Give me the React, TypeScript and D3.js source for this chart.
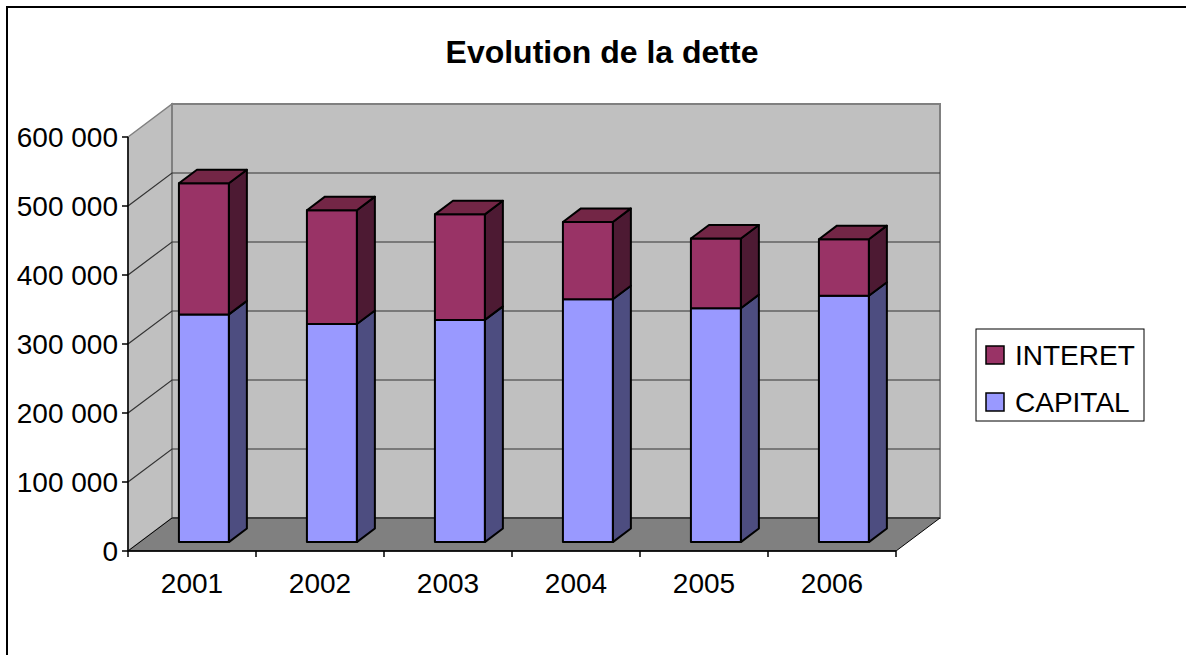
import * as d3 from "d3";
import { useEffect, useRef } from "react";

const years = ["2001", "2002", "2003", "2004", "2005", "2006"];
const capital = [330000, 316000, 322000, 352000, 339000, 357000];
const interet = [190000, 165000, 153000, 112000, 101000, 82000];
const yTicks = [0, 100000, 200000, 300000, 400000, 500000, 600000];
const seriesNames = ["INTERET", "CAPITAL"];

const W = 1186;
const H = 655;
const DX = 44; // full depth offset
const DY = -33;
const FRONT = 0.27; // bar front depth fraction
const BACK = 0.68;

const colors = {
  capital: { front: "#9999ff", side: "#4d4d80", top: "#7373bf" },
  interet: { front: "#993366", side: "#4d1a33", top: "#732646" },
};

const App = () => {
  const ref = useRef<SVGSVGElement>(null);

  useEffect(() => {
    const svg = d3.select(ref.current);
    svg.selectAll("*").remove();

    const x = d3.scaleBand().domain(years).range([128, 896]).paddingInner(0.61).paddingOuter(0.305);
    const y = d3.scaleLinear().domain([0, 600000]).range([551, 137]);
    const font = "'Liberation Sans', Arial, sans-serif";

    // outer frame
    svg.append("rect").attr("x", 7).attr("y", 7).attr("width", W + 20).attr("height", H + 20)
      .attr("fill", "white").attr("stroke", "#000").attr("stroke-width", 2);

    svg.append("text").attr("x", 602).attr("y", 63).attr("text-anchor", "middle")
      .attr("font-family", font).attr("font-weight", "bold").attr("font-size", 32)
      .text("Evolution de la dette");

    const x0 = x.range()[0], x1 = x.range()[1];
    const yTop = y(600000), yBot = y(0);
    const pts = (p: number[][]) => p.map(d => d.join(",")).join(" ");

    // left wall
    svg.append("polygon")
      .attr("points", pts([[x0, yTop], [x0 + DX, yTop + DY], [x0 + DX, yBot + DY], [x0, yBot]]))
      .attr("fill", "#c0c0c0").attr("stroke", "#808080").attr("stroke-width", 1.5);
    // back wall
    svg.append("rect").attr("x", x0 + DX).attr("y", yTop + DY).attr("width", x1 - x0)
      .attr("height", yBot - yTop).attr("fill", "#c0c0c0").attr("stroke", "#808080").attr("stroke-width", 2);
    // floor
    svg.append("polygon")
      .attr("points", pts([[x0, yBot], [x0 + DX, yBot + DY], [x1 + DX, yBot + DY], [x1, yBot]]))
      .attr("fill", "#808080").attr("stroke", "#000").attr("stroke-width", 1);

    // gridlines
    const g = svg.append("g").attr("stroke", "#000").attr("stroke-width", 1.2).attr("fill", "none");
    yTicks.forEach(t => {
      if (t === 0) return;
      g.append("path").attr("d", `M${x0},${y(t)} L${x0 + DX},${y(t) + DY} L${x1 + DX},${y(t) + DY}`)
        .attr("stroke", t === 600000 ? "none" : "#333");
    });

    // bars
    years.forEach((yr, i) => {
      const bx = x(yr)! + FRONT * DX;
      const bw = x.bandwidth();
      const fdy = FRONT * DY;
      const sdx = (BACK - FRONT) * DX;
      const sdy = (BACK - FRONT) * DY;
      const segs = [
        { lo: 0, hi: capital[i], c: colors.capital, top: false },
        { lo: capital[i], hi: capital[i] + interet[i], c: colors.interet, top: true },
      ];
      const bar = svg.append("g").attr("stroke", "#000").attr("stroke-width", 2).attr("stroke-linejoin", "round");
      segs.forEach(s => {
        const ylo = y(s.lo) + fdy;
        const yhi = y(s.hi) + fdy;
        bar.append("polygon")
          .attr("points", pts([[bx + bw, ylo], [bx + bw + sdx, ylo + sdy], [bx + bw + sdx, yhi + sdy], [bx + bw, yhi]]))
          .attr("fill", s.c.side);
        bar.append("rect").attr("x", bx).attr("y", yhi).attr("width", bw).attr("height", ylo - yhi)
          .attr("fill", s.c.front);
        if (s.top) {
          bar.append("polygon")
            .attr("points", pts([[bx, yhi], [bx + sdx, yhi + sdy], [bx + bw + sdx, yhi + sdy], [bx + bw, yhi]]))
            .attr("fill", s.c.top);
        }
      });
    });

    // axes
    const ax = svg.append("g").attr("stroke", "#000").attr("stroke-width", 1.5);
    ax.append("line").attr("x1", x0).attr("x2", x0).attr("y1", yTop).attr("y2", yBot);
    ax.append("line").attr("x1", x0).attr("x2", x1).attr("y1", yBot).attr("y2", yBot);
    yTicks.forEach(t => {
      ax.append("line").attr("x1", x0 - 6).attr("x2", x0).attr("y1", y(t)).attr("y2", y(t));
    });
    const step = x.step();
    d3.range(years.length + 1).forEach(k => {
      ax.append("line").attr("x1", x0 + k * step).attr("x2", x0 + k * step).attr("y1", yBot).attr("y2", yBot + 6);
    });

    const fmt = (v: number) => d3.format(",")(v).replace(/,/g, " ");
    svg.append("g").selectAll("text").data(yTicks).enter().append("text")
      .attr("x", 118).attr("y", d => y(d)).attr("dy", "0.36em").attr("text-anchor", "end")
      .attr("font-family", font).attr("font-size", 28).text(d => fmt(d));

    svg.append("g").selectAll("text").data(years).enter().append("text")
      .attr("x", d => x0 + (years.indexOf(d) + 0.5) * step).attr("y", 593).attr("text-anchor", "middle")
      .attr("font-family", font).attr("font-size", 28).text(d => d);

    // legend
    const lg = svg.append("g");
    lg.append("rect").attr("x", 976).attr("y", 329).attr("width", 168).attr("height", 92)
      .attr("fill", "white").attr("stroke", "#000").attr("stroke-width", 1);
    seriesNames.forEach((n, i) => {
      const c = n === "INTERET" ? colors.interet : colors.capital;
      lg.append("rect").attr("x", 986).attr("y", 346 + i * 47).attr("width", 18).attr("height", 18)
        .attr("fill", c.front).attr("stroke", "#000").attr("stroke-width", 1.5);
      lg.append("text").attr("x", 1015).attr("y", 365 + i * 47)
        .attr("font-family", font).attr("font-size", 28).text(n);
    });
  }, []);

  return (
    <svg ref={ref} width={W} height={H}
      style={{ position: "absolute", left: 0, top: 0, display: "block", background: "white" }} />
  );
};

export default App;
